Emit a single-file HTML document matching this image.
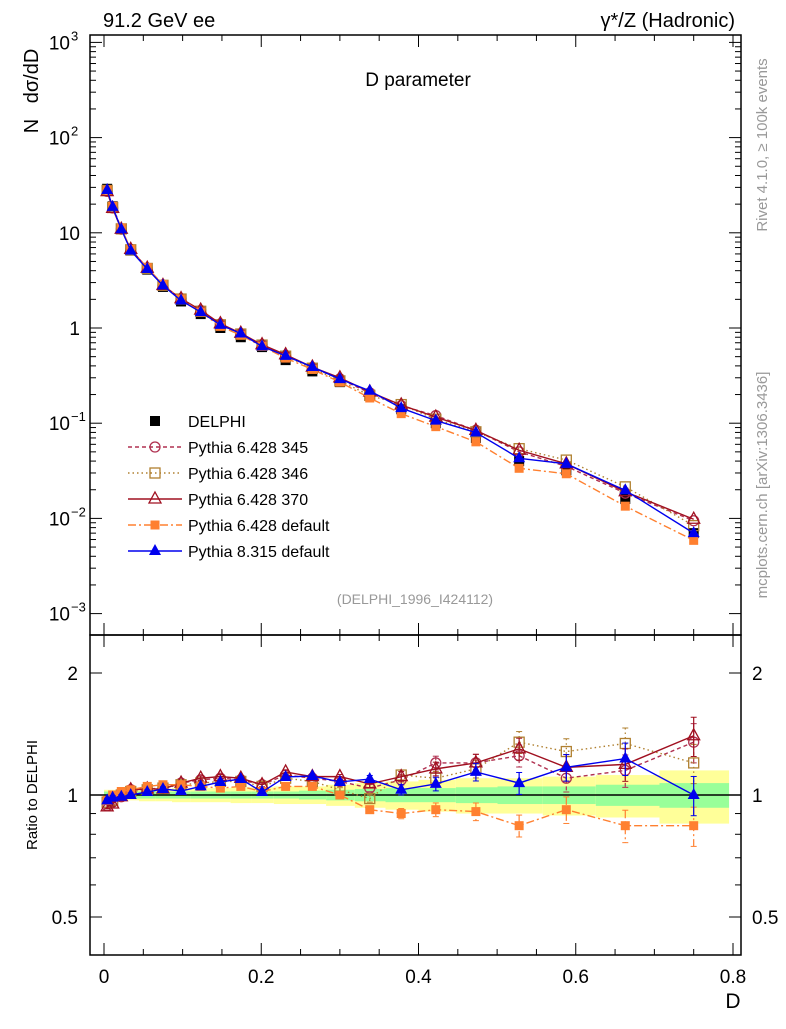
<!DOCTYPE html>
<html><head><meta charset="utf-8"><style>
body{margin:0;background:#fff}
svg text{font-family:"Liberation Sans",sans-serif}
</style></head><body>
<svg id="c" width="786" height="1024" xmlns="http://www.w3.org/2000/svg"></svg>
<script>
const dVals=[0.004,0.011,0.022,0.034,0.055,0.075,0.098,0.123,0.148,0.174,0.201,0.231,0.265,0.3,0.338,0.378,0.422,0.473,0.528,0.588,0.663,0.75];
const delphi=[29,19,11,6.5,4.1,2.7,1.9,1.4,1.0,0.8,0.63,0.46,0.35,0.27,0.2,0.14,0.1,0.07,0.04,0.032,0.016,0.007];
const r345=[0.94,0.96,0.99,1.03,1.035,1.04,1.07,1.09,1.1,1.09,1.06,1.12,1.1,1.08,1.04,1.09,1.2,1.2,1.25,1.1,1.15,1.35];
const r346=[0.96,0.97,1.0,1.02,1.03,1.04,1.06,1.07,1.08,1.08,1.05,1.1,1.08,1.03,0.98,1.12,1.1,1.16,1.35,1.28,1.34,1.2];
const r370=[0.935,0.95,0.99,1.03,1.035,1.035,1.07,1.1,1.11,1.1,1.06,1.14,1.11,1.11,1.065,1.11,1.16,1.2,1.3,1.17,1.19,1.4];
const rDef6=[0.97,1.0,1.02,1.03,1.05,1.06,1.06,1.05,1.04,1.05,1.02,1.05,1.05,1.0,0.92,0.9,0.92,0.91,0.84,0.92,0.84,0.84];
const r8=[0.97,0.985,0.99,1.0,1.017,1.035,1.023,1.05,1.077,1.095,1.017,1.108,1.114,1.077,1.095,1.03,1.065,1.14,1.07,1.17,1.23,1.0];
const bandG=[0.02,0.02,0.02,0.02,0.02,0.02,0.02,0.02,0.02,0.02,0.02,0.02,0.025,0.03,0.035,0.04,0.04,0.045,0.05,0.05,0.06,0.07];
const bandY=[0.03,0.03,0.03,0.03,0.035,0.035,0.04,0.04,0.04,0.045,0.045,0.05,0.05,0.06,0.07,0.08,0.09,0.1,0.1,0.11,0.12,0.15];
const xTicks=[0,0.2,0.4,0.6,0.8];
const NS="http://www.w3.org/2000/svg",svg=document.getElementById('c');
const X=v=>104+v*786.25, Y=v=>328-95.2*Math.log10(v), R=v=>795-405.3*Math.log10(v);
function el(t,a,p){const e=document.createElementNS(NS,t);for(const k in a)e.setAttribute(k,a[k]);(p||svg).appendChild(e);return e;}
function tx(x,y,s,sz,anc,col,extra){const e=el('text',Object.assign({x:x,y:y,'font-size':sz,'text-anchor':anc||'start',fill:col||'#000'},extra||{}));e.textContent=s;return e;}
// bands
const edges=dVals.map((d,i)=>i==0?0:(dVals[i-1]+d)/2);edges.push(0.795);
for(let i=0;i<dVals.length;i++){
 const b=el('rect',{x:X(edges[i]),width:X(edges[i+1])-X(edges[i]),y:R(1+bandY[i]),height:R(1-bandY[i])-R(1+bandY[i]),fill:'#ffff99'});
 
 const g=el('rect',{x:X(edges[i]),width:X(edges[i+1])-X(edges[i]),y:R(1+bandG[i]),height:R(1-bandG[i])-R(1+bandG[i]),fill:'#99ff99'});
 
}
el('line',{x1:90,x2:741,y1:R(1),y2:R(1),stroke:'#000','stroke-width':1.5});
// frames
const f1=el('rect',{x:90,y:35,width:651,height:600,fill:'none',stroke:'#000','stroke-width':1.5});

const f2=el('rect',{x:90,y:635,width:651,height:320,fill:'none',stroke:'#000','stroke-width':1.5});

// log ticks main
for(let e=-3;e<3;e++)for(let m=1;m<10;m++){const y=Y(m*Math.pow(10,e));if(y<35)continue;const L=m==1?12:6;
 el('line',{x1:90,x2:90+L,y1:y,y2:y,stroke:'#000'});el('line',{x1:741,x2:741-L,y1:y,y2:y,stroke:'#000'});}
el('line',{x1:90,x2:102,y1:Y(1000),y2:Y(1000),stroke:'#000'});el('line',{x1:741,x2:729,y1:Y(1000),y2:Y(1000),stroke:'#000'});
const ylab=[[1000,'10','3'],[100,'10','2'],[10,'10',''],[1,'1',''],[0.1,'10','−1'],[0.01,'10','−2'],[0.001,'10','−3']];
ylab.forEach(l=>{const t=tx(l[2]?70:80,Y(l[0])+7,l[1],19,'end');
 if(l[2]){const s=tx(71,Y(l[0])-2,l[2],13,'start');}});
// ratio ticks
[0.5,0.6,0.7,0.8,0.9,1,2].forEach(v=>{const L=(v==1||v==2||v==0.5)?12:6;el('line',{x1:90,x2:90+L,y1:R(v),y2:R(v),stroke:'#000'});el('line',{x1:741,x2:741-L,y1:R(v),y2:R(v),stroke:'#000'});});
[[2,'2'],[1,'1'],[0.5,'0.5']].forEach(l=>{tx(78,R(l[0])+7,l[1],19,'end');tx(752,R(l[0])+7,l[1],19,'start');});
// x ticks
for(let v=0;v<=0.8001;v+=0.05){const big=Math.abs(v*10-Math.round(v*10))<1e-6&&Math.round(v*10)%2==0;const L=big?12:6;
 [[635,-1],[35,1],[955,-1]].forEach(p=>el('line',{x1:X(v),x2:X(v),y1:p[0],y2:p[0]+p[1]*L,stroke:'#000'}));
 el('line',{x1:X(v),x2:X(v),y1:635,y2:635+L,stroke:'#000'});}
xTicks.forEach(v=>{const t=tx(X(v),983,String(v),19,'middle');});
// series
function marker(type,x,y,col,g){
 if(type=='sq')el('rect',{x:x-5,y:y-5,width:10,height:10,fill:col},g);
 if(type=='osq')el('rect',{x:x-5,y:y-5,width:10,height:10,fill:'none',stroke:col,'stroke-width':1.3},g);
 if(type=='oc')el('circle',{cx:x,cy:y,r:5,fill:'none',stroke:col,'stroke-width':1.3},g);
 if(type=='tri')el('path',{d:`M${x},${y-7}L${x+6},${y+4}L${x-6},${y+4}Z`,fill:col},g);
 if(type=='otri')el('path',{d:`M${x},${y-7}L${x+6},${y+4}L${x-6},${y+4}Z`,fill:'none',stroke:col,'stroke-width':1.3},g);
 if(type=='ssq')el('rect',{x:x-4.5,y:y-4.5,width:9,height:9,fill:col},g);
}
const series=[
 ['pythia-6428-345',r345,'#b03050','4,3','oc'],
 ['pythia-6428-346',r346,'#b08030','1.5,3','osq'],
 ['pythia-6428-370',r370,'#a01020','','otri'],
 ['pythia-6428-default',rDef6,'#ff8030','8,3,2,3','ssq'],
 ['pythia-8315-default',r8,'#0000ee','','tri']];
const dg=el('g',{});
dVals.forEach((d,i)=>marker('sq',X(d),Y(delphi[i]),'#000',dg));
series.forEach(s=>{
 const g=el('g',{});
 const pm=dVals.map((d,i)=>X(d)+','+Y(delphi[i]*s[1][i])).join(' ');
 el('polyline',{points:pm,fill:'none',stroke:s[2],'stroke-width':1.4,'stroke-dasharray':s[3]},g);
 dVals.forEach((d,i)=>marker(s[4],X(d),Y(delphi[i]*s[1][i]),s[2],g));
 const pr=dVals.map((d,i)=>X(d)+','+R(s[1][i])).join(' ');
 el('polyline',{points:pr,fill:'none',stroke:s[2],'stroke-width':1.4,'stroke-dasharray':s[3]},g);
 dVals.forEach((d,i)=>{const e=0.012+0.22*Math.max(0,d-0.3);
  el('line',{x1:X(d),x2:X(d),y1:R(s[1][i]*(1+e)),y2:R(s[1][i]*(1-e)),stroke:s[2],'stroke-width':1.2,'stroke-dasharray':s[3]},g);
  el('line',{x1:X(d)-3,x2:X(d)+3,y1:R(s[1][i]*(1+e)),y2:R(s[1][i]*(1+e)),stroke:s[2]},g);
  el('line',{x1:X(d)-3,x2:X(d)+3,y1:R(s[1][i]*(1-e)),y2:R(s[1][i]*(1-e)),stroke:s[2]},g);
  marker(s[4],X(d),R(s[1][i]),s[2],g);});
});
// legend
const leg=[['DELPHI','#000','','sq'],['Pythia 6.428 345','#b03050','4,3','oc'],['Pythia 6.428 346','#b08030','1.5,3','osq'],['Pythia 6.428 370','#a01020','','otri'],['Pythia 6.428 default','#ff8030','8,3,2,3','ssq'],['Pythia 8.315 default','#0000ee','','tri']];
leg.forEach((l,i)=>{const y=421+i*26;const g=el('g',{});
 if(i>0)el('line',{x1:128,x2:182,y1:y,y2:y,stroke:l[1],'stroke-width':1.4,'stroke-dasharray':l[2]},g);
 marker(l[3],155,y,l[1],g);const t=tx(188,y+6,l[0],16,'start','#000');g.appendChild(t);});
// texts
tx(103,27,'91.2 GeV ee',20,'start');
tx(735,27,'γ*/Z (Hadronic)',20,'end');
tx(418,86,'D parameter',19,'middle');
tx(415,604,'(DELPHI_1996_I424112)',14,'middle','#999');
tx(733,1008,'D',21,'middle');
tx(0,0,'N',20,'middle','#000',{transform:'translate(38,126) rotate(-90)'});
tx(0,0,'dσ/dD',20,'middle','#000',{transform:'translate(38,76) rotate(-90)'});
tx(0,0,'Ratio to DELPHI',15,'middle','#000',{transform:'translate(37,795) rotate(-90)'});
tx(0,0,'Rivet 4.1.0, ≥ 100k events',15,'middle','#999',{transform:'translate(767,145) rotate(-90)'});
tx(0,0,'mcplots.cern.ch [arXiv:1306.3436]',15,'middle','#999',{transform:'translate(767,485) rotate(-90)'});
</script>
</body></html>
